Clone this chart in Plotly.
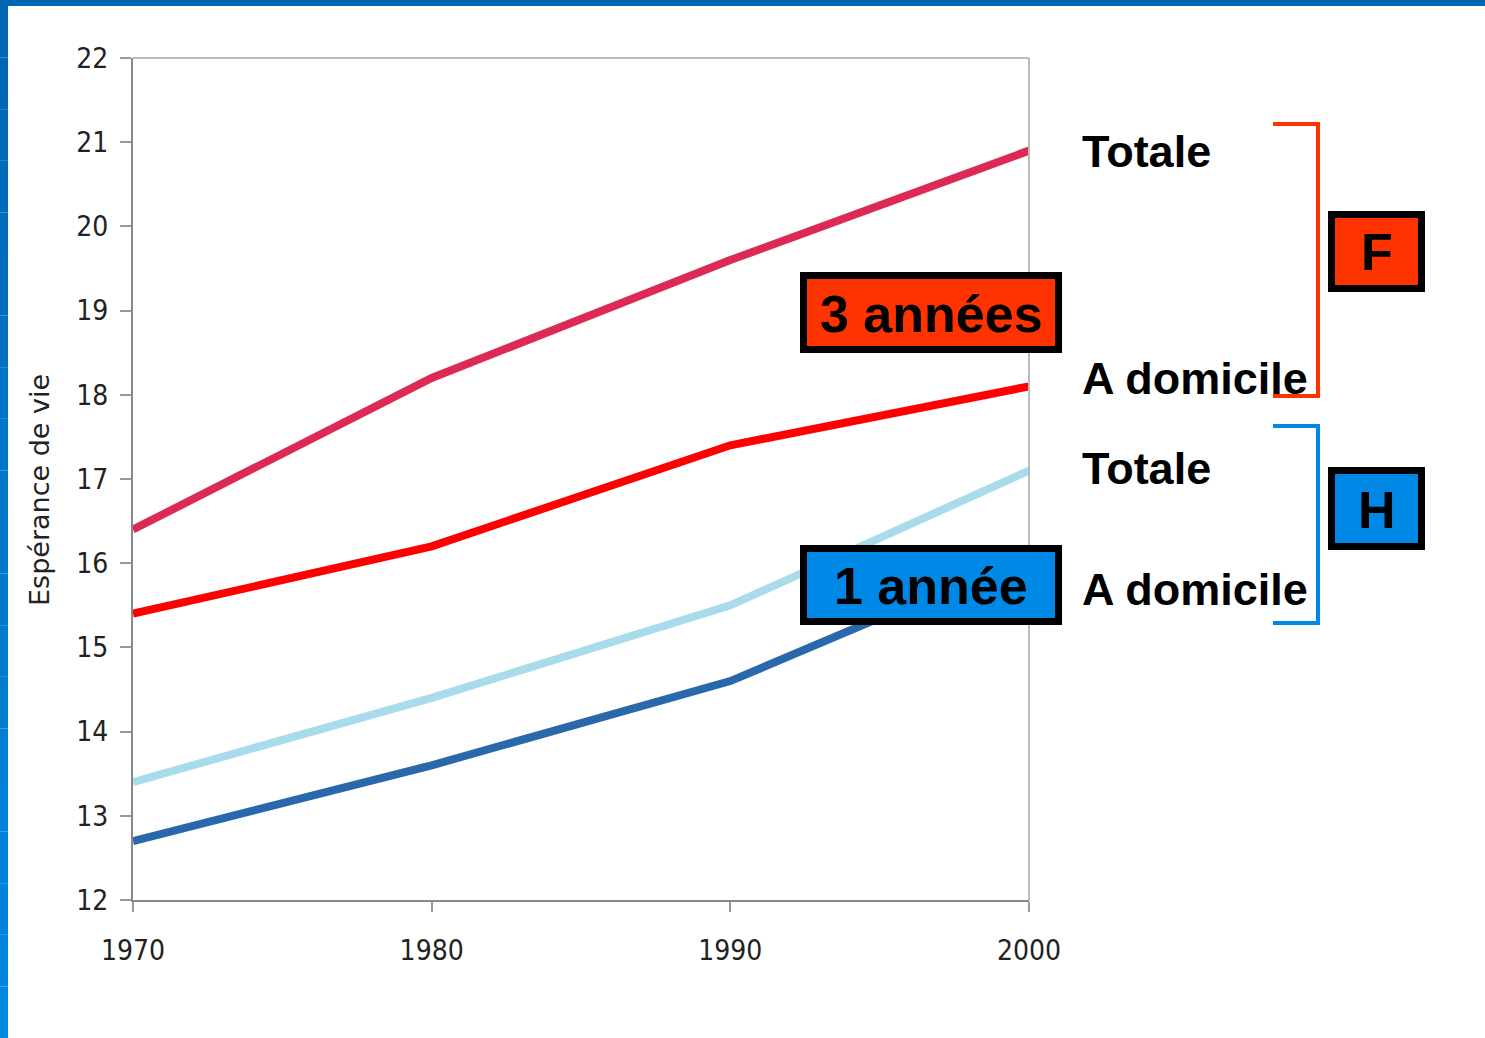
import plotly.graph_objects as go

# Espérance de vie par année
annees = [1970, 1980, 1990, 2000]
femmes_totale = [16.4, 18.2, 19.6, 20.9]
femmes_domicile = [15.4, 16.2, 17.4, 18.1]
hommes_totale = [13.4, 14.4, 15.5, 17.1]
hommes_domicile = [12.7, 13.6, 14.6, 16.1]

y_ticks = list(range(12, 23))

ROUGE = '#ff3300'
BLEU = '#0088e6'

# zone de tracé en pixels
X0, X1, Y0, Y1 = 133, 1029, 58, 900


def px(x):
    return (x - X0) / (X1 - X0)


def py(y):
    return (Y1 - y) / (Y1 - Y0)


fig = go.Figure()
series = [
    (hommes_domicile, '#2a68ac'),
    (hommes_totale, '#a8dcea'),
    (femmes_domicile, '#ff0000'),
    (femmes_totale, '#dc2a55'),
]
for valeurs, couleur in series:
    fig.add_trace(go.Scatter(x=annees, y=valeurs, mode='lines',
                             line=dict(color=couleur, width=8), showlegend=False))

shapes = []
# cadre haut / droite
shapes.append(dict(type='line', xref='paper', yref='paper', x0=0, x1=1, y0=1, y1=1,
                   line=dict(color='#bbbbbb', width=2)))
shapes.append(dict(type='line', xref='paper', yref='paper', x0=1, x1=1, y0=0, y1=1,
                   line=dict(color='#bbbbbb', width=2)))

# bordure bleue de la diapo
shapes.append(dict(type='rect', xref='paper', yref='paper', x0=px(0), x1=px(1485),
                   y0=py(6), y1=py(0), fillcolor='#0066b3', line_width=0, layer='above'))
n = 20
for i in range(n):
    t = i / (n - 1)
    r, g, b = 0, int(102 + t * 34), int(179 + t * 45)
    shapes.append(dict(type='rect', xref='paper', yref='paper', x0=px(0), x1=px(8),
                       y0=py(6 + (i + 1) * 1032 / n), y1=py(6 + i * 1032 / n),
                       fillcolor=f'rgb({r},{g},{b})', line_width=0, layer='above'))


def boite(x0, y0, x1, y1, couleur):
    shapes.append(dict(type='rect', xref='paper', yref='paper',
                       x0=px(x0 + 3.5), x1=px(x1 - 3.5), y0=py(y1 - 3.5), y1=py(y0 + 3.5),
                       fillcolor=couleur, line=dict(color='black', width=7), layer='above'))


boite(800, 272, 1062, 353, ROUGE)
boite(800, 545, 1062, 625, BLEU)
boite(1328, 211, 1425, 292, ROUGE)
boite(1328, 467, 1425, 550, BLEU)


def crochet(y0, y1, couleur):
    shapes.append(dict(type='path', xref='paper', yref='paper',
                       path=f'M {px(1273)},{py(y0)} L {px(1318)},{py(y0)} '
                            f'L {px(1318)},{py(y1)} L {px(1273)},{py(y1)}',
                       line=dict(color=couleur, width=4), layer='above'))


crochet(124, 396, ROUGE)
crochet(426, 623, BLEU)

gras = dict(family='Liberation Sans, Arial, sans-serif', size=45, color='black')
gros = dict(family='Liberation Sans, Arial, sans-serif', size=52, color='black')
annotations = []


def texte(t, x, y, police, xanchor='left'):
    annotations.append(dict(text=f'<b>{t}</b>', x=px(x), y=py(y), xref='paper', yref='paper',
                            xanchor=xanchor, yanchor='middle', showarrow=False, font=police))


texte('Totale', 1080, 151, gras)
texte('A domicile', 1080, 378, gras)
texte('Totale', 1080, 469, gras)
texte('A domicile', 1080, 589, gras)
texte('3 années', 931, 314, gros, 'center')
texte('1 année', 931, 586, gros, 'center')
texte('F', 1377, 252, gros, 'center')
texte('H', 1377, 510, gros, 'center')

annotations.append(dict(text='Espérance de vie', x=px(40), y=py(490), xref='paper', yref='paper',
                        textangle=-90, showarrow=False, xanchor='center', yanchor='middle',
                        font=dict(family='DejaVu Sans, sans-serif', size=27, color='#222222')))

police_ticks = dict(family='DejaVu Sans Condensed, Liberation Sans Narrow, DejaVu Sans, sans-serif',
                    size=28, color='#222222')

fig.update_layout(
    width=1485, height=1038, autosize=False,
    margin=dict(l=X0, r=1485 - X1, t=Y0, b=1038 - Y1, pad=0),
    plot_bgcolor='white', paper_bgcolor='white',
    shapes=shapes, annotations=annotations,
    xaxis=dict(range=[1970, 2000], tickvals=annees, ticks='outside', ticklen=10,
               tickcolor='#999999', tickwidth=2, showline=True, linecolor='#888888',
               linewidth=2, showgrid=False, zeroline=False, tickfont=police_ticks,
               ticklabelstandoff=14),
    yaxis=dict(range=[12, 22], tickvals=y_ticks, ticks='outside', ticklen=11,
               tickcolor='#999999', tickwidth=2, showline=True, linecolor='#888888',
               linewidth=2, showgrid=False, zeroline=False, tickfont=police_ticks,
               ticklabelstandoff=6),
)

fig.write_html('out.html', config={'displayModeBar': False},
               post_script="document.body.style.margin='0';")
